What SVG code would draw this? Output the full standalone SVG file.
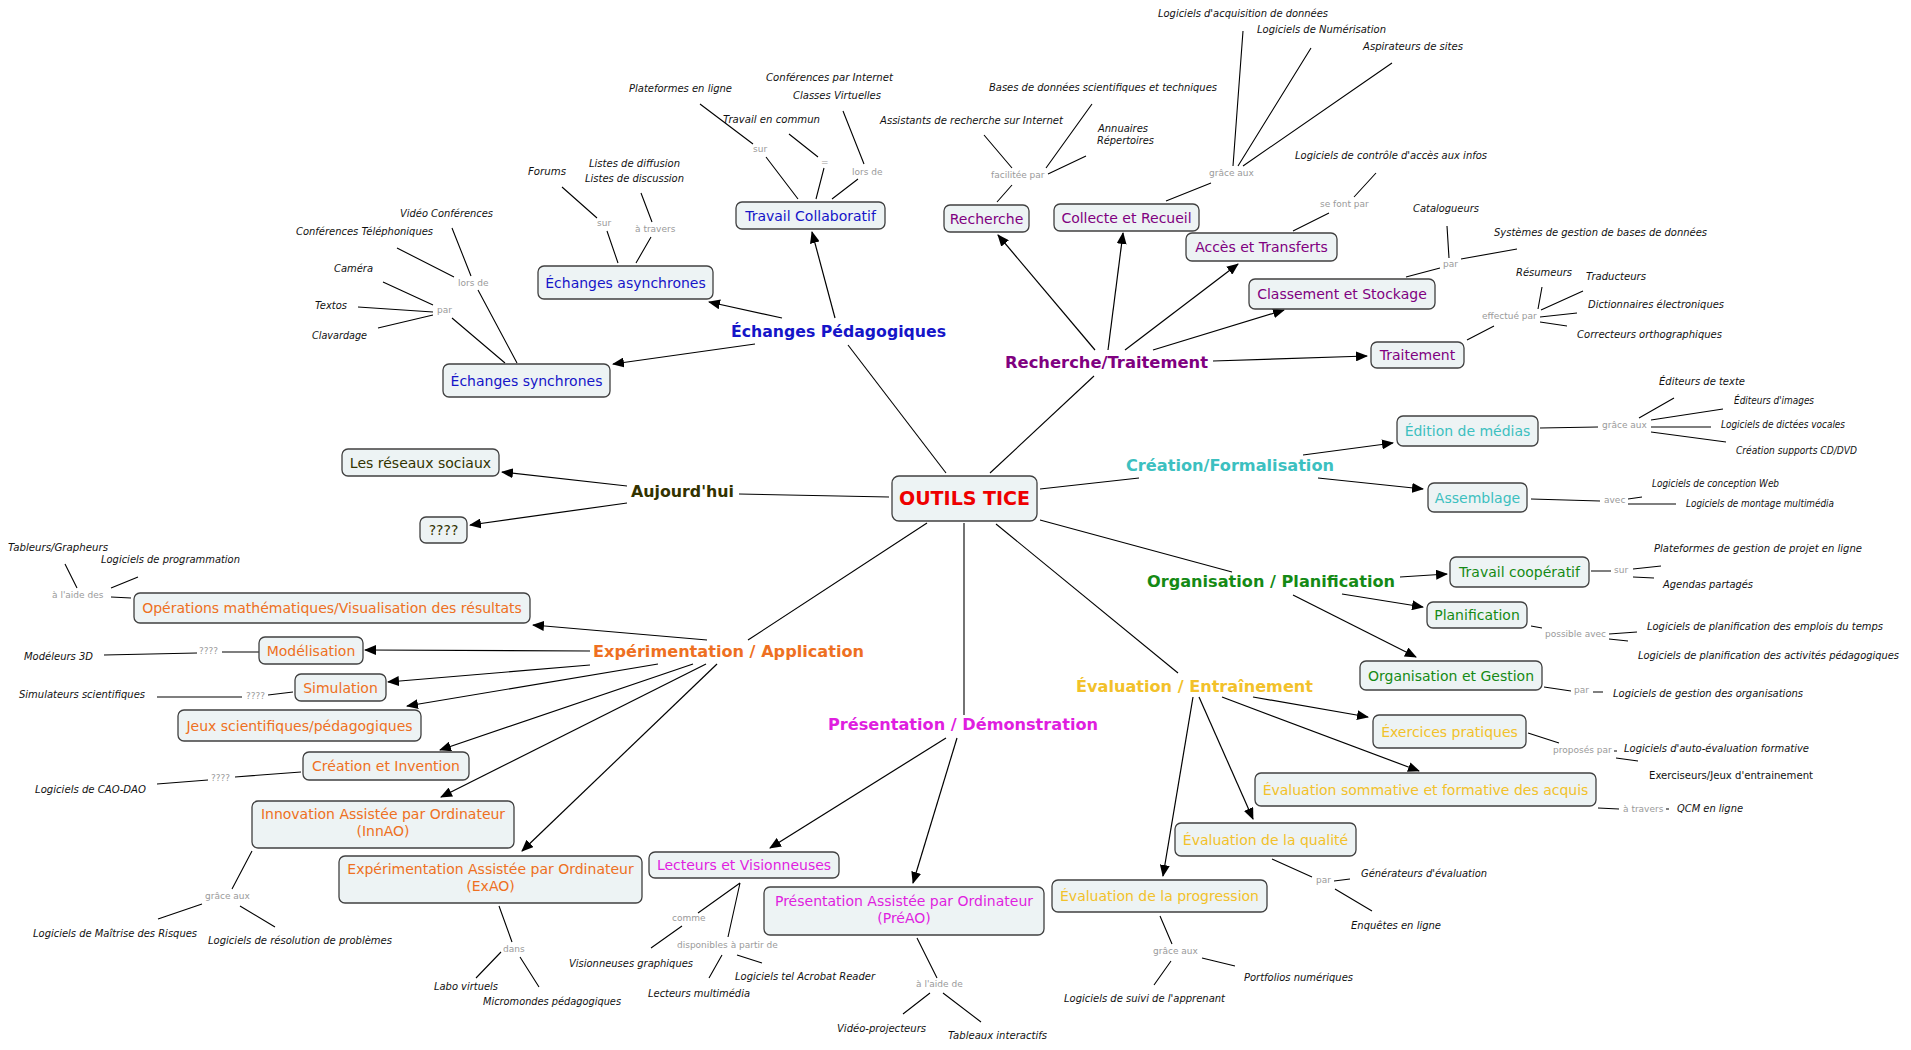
<svg xmlns="http://www.w3.org/2000/svg" width="1911" height="1050" viewBox="0 0 1911 1050">
<style>
.bg{fill:#ffffff}
.box{fill:#edf3f4;stroke:#404040;stroke-width:1.3}
.nt{font-family:"DejaVu Sans",Verdana,sans-serif;font-size:14px;text-anchor:middle}
.cat{font-family:"DejaVu Sans",Verdana,sans-serif;font-size:16px;font-weight:bold}
.leaf{font-family:"DejaVu Sans",Verdana,sans-serif;font-size:10px;font-style:italic;fill:#111}
.plain{font-family:"DejaVu Sans",Verdana,sans-serif;font-size:10px;fill:#111}
.lab{font-family:"DejaVu Sans",Verdana,sans-serif;font-size:9px;fill:#9a9a9a}
.ln{stroke:#000;stroke-width:1.1;fill:none}
.ar{stroke:#000;stroke-width:1.2;fill:none;marker-end:url(#ah)}
.blue{fill:#1515c8}.purple{fill:#800080}.cyan{fill:#3cc0c0}.green{fill:#158a15}.gold{fill:#f2c12a}.mag{fill:#e01ee0}.orange{fill:#ee7022}.olive{fill:#333300}.red{fill:#ee0000}
</style>
<defs>
<marker id="ah" markerWidth="12" markerHeight="10" refX="11" refY="5" orient="auto" markerUnits="userSpaceOnUse">
<path d="M0,0 L12,5 L0,10 z" fill="#000"/>
</marker>
</defs>
<rect class="bg" x="0" y="0" width="1911" height="1050"/>

<g id="connectors">
<!-- center to categories -->
<line class="ln" x1="946" y1="473" x2="848" y2="345"/>
<line class="ln" x1="889" y1="497" x2="739" y2="494"/>
<line class="ln" x1="927" y1="523" x2="748" y2="640"/>
<line class="ln" x1="964" y1="523" x2="964" y2="715"/>
<line class="ln" x1="996" y1="524" x2="1178" y2="673"/>
<line class="ln" x1="1040" y1="520" x2="1232" y2="572"/>
<line class="ln" x1="1040" y1="489" x2="1139" y2="478"/>
<line class="ln" x1="990" y1="473" x2="1094" y2="376"/>
<!-- arrows -->
<line class="ar" x1="782" y1="318" x2="709" y2="302"/>
<line class="ar" x1="835" y1="318" x2="812" y2="232"/>
<line class="ar" x1="755" y1="344" x2="613" y2="364"/>
<line class="ar" x1="627" y1="486" x2="502" y2="472"/>
<line class="ar" x1="627" y1="503" x2="470" y2="525"/>
<line class="ar" x1="1095" y1="350" x2="998" y2="235"/>
<line class="ar" x1="1108" y1="350" x2="1123" y2="233"/>
<line class="ar" x1="1125" y1="350" x2="1238" y2="264"/>
<line class="ar" x1="1153" y1="350" x2="1284" y2="310"/>
<line class="ar" x1="1213" y1="361" x2="1367" y2="356"/>
<line class="ar" x1="1303" y1="455" x2="1393" y2="443"/>
<line class="ar" x1="1318" y1="478" x2="1423" y2="489"/>
<line class="ar" x1="1400" y1="577" x2="1447" y2="574"/>
<line class="ar" x1="1342" y1="594" x2="1423" y2="607"/>
<line class="ar" x1="1293" y1="595" x2="1416" y2="657"/>
<line class="ar" x1="1253" y1="697" x2="1368" y2="717"/>
<line class="ar" x1="1222" y1="697" x2="1419" y2="771"/>
<line class="ar" x1="1199" y1="697" x2="1253" y2="819"/>
<line class="ar" x1="1193" y1="697" x2="1163" y2="876"/>
<line class="ar" x1="946" y1="738" x2="770" y2="848"/>
<line class="ar" x1="957" y1="738" x2="913" y2="883"/>
<line class="ar" x1="707" y1="640" x2="533" y2="625"/>
<line class="ar" x1="590" y1="651" x2="365" y2="650"/>
<line class="ar" x1="590" y1="665" x2="388" y2="682"/>
<line class="ar" x1="658" y1="664" x2="407" y2="706"/>
<line class="ar" x1="693" y1="664" x2="440" y2="750"/>
<line class="ar" x1="706" y1="664" x2="441" y2="797"/>
<line class="ar" x1="717" y1="664" x2="522" y2="851"/>
<!-- leaf links -->
<path class="ln" d="M397,248L454,277M452,228L471,276M478,290L517,363M383,282L433,305M358,307L433,312M378,328L433,315M452,318L505,363"/>
<path class="ln" d="M700,104L753,144M766,157L798,199M789,134L818,157M824,168L816,199M843,111L864,164M858,179L832,199"/>
<path class="ln" d="M562,187L597,218M607,231L618,263M641,193L652,222M651,237L636,263"/>
<path class="ln" d="M984,135L1012,168M1092,104L1046,168M1086,156L1048,174M1012,185L997,202"/>
<path class="ln" d="M1243,31L1233,166M1311,48L1238,166M1392,63L1243,166M1211,183L1166,201"/>
<path class="ln" d="M1376,173L1354,197M1329,213L1293,231"/>
<path class="ln" d="M1406,277L1440,268M1447,226L1449,258M1461,259L1517,249"/>
<path class="ln" d="M1494,326L1467,340M1542,287L1538,309M1583,291L1541,310M1577,313L1540,317M1567,326L1540,322"/>
<path class="ln" d="M1540,428L1598,427M1639,418L1674,398M1651,420L1723,409M1651,427L1711,427M1651,432L1726,442"/>
<path class="ln" d="M1531,499L1600,501M1628,499L1642,497M1628,504L1676,504"/>
<path class="ln" d="M1591,571L1611,571M1633,569L1661,566M1633,577L1654,578"/>
<path class="ln" d="M1531,626L1542,628M1609,634L1637,632M1609,639L1628,641"/>
<path class="ln" d="M1544,687L1571,691M1593,692L1603,692"/>
<path class="ln" d="M1528,733L1559,743M1614,751L1617,751M1616,758L1638,761"/>
<path class="ln" d="M1598,808L1619,809M1666,809L1669,809"/>
<path class="ln" d="M1272,859L1312,877M1334,881L1350,879M1335,889L1372,911"/>
<path class="ln" d="M1160,916L1172,944M1202,958L1235,966M1171,961L1154,985"/>
<path class="ln" d="M917,938L937,978M930,993L903,1014M943,993L981,1022"/>
<path class="ln" d="M740,883L698,913M682,926L651,948M740,883L728,937M722,955L709,978M737,955L762,963"/>
<path class="ln" d="M499,906L512,942M501,952L476,978M520,957L539,987"/>
<path class="ln" d="M252,851L232,889M202,904L158,919M240,906L275,927"/>
<path class="ln" d="M157,784L208,780M235,777L301,772"/>
<path class="ln" d="M157,697L242,697M268,695L293,692"/>
<path class="ln" d="M104,655L197,653M222,652L259,652"/>
<path class="ln" d="M65,564L77,588M138,577L111,588M111,597L131,598"/>
</g>

<g id="labels">
<text class="lab" x="458" y="286">lors de</text>
<text class="lab" x="437" y="313">par</text>
<text class="lab" x="753" y="152">sur</text>
<text class="lab" x="821" y="165">=</text>
<text class="lab" x="852" y="175">lors de</text>
<text class="lab" x="597" y="226">sur</text>
<text class="lab" x="635" y="232">à travers</text>
<text class="lab" x="991" y="178">facilitée par</text>
<text class="lab" x="1209" y="176">grâce aux</text>
<text class="lab" x="1320" y="207">se font par</text>
<text class="lab" x="1443" y="267">par</text>
<text class="lab" x="1482" y="319">effectué par</text>
<text class="lab" x="1602" y="428">grâce aux</text>
<text class="lab" x="1604" y="503">avec</text>
<text class="lab" x="1614" y="573">sur</text>
<text class="lab" x="1545" y="637">possible avec</text>
<text class="lab" x="1574" y="693">par</text>
<text class="lab" x="1553" y="753">proposés par</text>
<text class="lab" x="1623" y="812">à travers</text>
<text class="lab" x="1316" y="883">par</text>
<text class="lab" x="1153" y="954">grâce aux</text>
<text class="lab" x="916" y="987">à l'aide de</text>
<text class="lab" x="672" y="921">comme</text>
<text class="lab" x="677" y="948">disponibles à partir de</text>
<text class="lab" x="503" y="952">dans</text>
<text class="lab" x="205" y="899">grâce aux</text>
<text class="lab" x="211" y="781">????</text>
<text class="lab" x="246" y="699">????</text>
<text class="lab" x="199" y="654">????</text>
<text class="lab" x="52" y="598">à l'aide des</text>
</g>

<g id="leaves">
<text class="leaf" x="400" y="217" textLength="93" lengthAdjust="spacingAndGlyphs">Vidéo Conférences</text>
<text class="leaf" x="296" y="235" textLength="137" lengthAdjust="spacingAndGlyphs">Conférences Téléphoniques</text>
<text class="leaf" x="334" y="272" textLength="39" lengthAdjust="spacingAndGlyphs">Caméra</text>
<text class="leaf" x="315" y="309" textLength="32" lengthAdjust="spacingAndGlyphs">Textos</text>
<text class="leaf" x="312" y="339" textLength="55" lengthAdjust="spacingAndGlyphs">Clavardage</text>
<text class="leaf" x="629" y="92" textLength="103" lengthAdjust="spacingAndGlyphs">Plateformes en ligne</text>
<text class="leaf" x="766" y="81" textLength="127" lengthAdjust="spacingAndGlyphs">Conférences par Internet</text>
<text class="leaf" x="793" y="99" textLength="88" lengthAdjust="spacingAndGlyphs">Classes Virtuelles</text>
<text class="leaf" x="723" y="123" textLength="97" lengthAdjust="spacingAndGlyphs">Travail en commun</text>
<text class="leaf" x="528" y="175" textLength="38" lengthAdjust="spacingAndGlyphs">Forums</text>
<text class="leaf" x="589" y="167" textLength="91" lengthAdjust="spacingAndGlyphs">Listes de diffusion</text>
<text class="leaf" x="585" y="182" textLength="99" lengthAdjust="spacingAndGlyphs">Listes de discussion</text>
<text class="leaf" x="1158" y="17" textLength="170" lengthAdjust="spacingAndGlyphs">Logiciels d'acquisition de données</text>
<text class="leaf" x="1257" y="33" textLength="129" lengthAdjust="spacingAndGlyphs">Logiciels de Numérisation</text>
<text class="leaf" x="1363" y="50" textLength="100" lengthAdjust="spacingAndGlyphs">Aspirateurs de sites</text>
<text class="leaf" x="989" y="91" textLength="228" lengthAdjust="spacingAndGlyphs">Bases de données scientifiques et techniques</text>
<text class="leaf" x="880" y="124" textLength="183" lengthAdjust="spacingAndGlyphs">Assistants de recherche sur Internet</text>
<text class="leaf" x="1098" y="132" textLength="50" lengthAdjust="spacingAndGlyphs">Annuaires</text>
<text class="leaf" x="1097" y="144" textLength="57" lengthAdjust="spacingAndGlyphs">Répertoires</text>
<text class="leaf" x="1295" y="159" textLength="192" lengthAdjust="spacingAndGlyphs">Logiciels de contrôle d'accès aux infos</text>
<text class="leaf" x="1413" y="212" textLength="66" lengthAdjust="spacingAndGlyphs">Catalogueurs</text>
<text class="leaf" x="1494" y="236" textLength="213" lengthAdjust="spacingAndGlyphs">Systèmes de gestion de bases de données</text>
<text class="leaf" x="1516" y="276" textLength="56" lengthAdjust="spacingAndGlyphs">Résumeurs</text>
<text class="leaf" x="1586" y="280" textLength="60" lengthAdjust="spacingAndGlyphs">Traducteurs</text>
<text class="leaf" x="1588" y="308" textLength="136" lengthAdjust="spacingAndGlyphs">Dictionnaires électroniques</text>
<text class="leaf" x="1577" y="338" textLength="145" lengthAdjust="spacingAndGlyphs">Correcteurs orthographiques</text>
<text class="leaf" x="1659" y="385" textLength="86" lengthAdjust="spacingAndGlyphs">Éditeurs de texte</text>
<text class="leaf" x="1734" y="404" textLength="80" lengthAdjust="spacingAndGlyphs">Éditeurs d'images</text>
<text class="leaf" x="1721" y="428" textLength="124" lengthAdjust="spacingAndGlyphs">Logiciels de dictées vocales</text>
<text class="leaf" x="1736" y="454" textLength="121" lengthAdjust="spacingAndGlyphs">Création supports CD/DVD</text>
<text class="leaf" x="1652" y="487" textLength="127" lengthAdjust="spacingAndGlyphs">Logiciels de conception Web</text>
<text class="leaf" x="1686" y="507" textLength="148" lengthAdjust="spacingAndGlyphs">Logiciels de montage multimédia</text>
<text class="leaf" x="1654" y="552" textLength="208" lengthAdjust="spacingAndGlyphs">Plateformes de gestion de projet en ligne</text>
<text class="leaf" x="1663" y="588" textLength="90" lengthAdjust="spacingAndGlyphs">Agendas partagés</text>
<text class="leaf" x="1647" y="630" textLength="236" lengthAdjust="spacingAndGlyphs">Logiciels de planification des emplois du temps</text>
<text class="leaf" x="1638" y="659" textLength="261" lengthAdjust="spacingAndGlyphs">Logiciels de planification des activités pédagogiques</text>
<text class="leaf" x="1613" y="697" textLength="190" lengthAdjust="spacingAndGlyphs">Logiciels de gestion des organisations</text>
<text class="leaf" x="1624" y="752" textLength="185" lengthAdjust="spacingAndGlyphs">Logiciels d'auto-évaluation formative</text>
<text class="plain" x="1649" y="779" textLength="164" lengthAdjust="spacingAndGlyphs">Exerciseurs/Jeux d'entrainement</text>
<text class="leaf" x="1677" y="812" textLength="66" lengthAdjust="spacingAndGlyphs">QCM en ligne</text>
<text class="leaf" x="1361" y="877" textLength="126" lengthAdjust="spacingAndGlyphs">Générateurs d'évaluation</text>
<text class="leaf" x="1351" y="929">Enquêtes en ligne</text>
<text class="leaf" x="1244" y="981" textLength="109" lengthAdjust="spacingAndGlyphs">Portfolios numériques</text>
<text class="leaf" x="1064" y="1002" textLength="161" lengthAdjust="spacingAndGlyphs">Logiciels de suivi de l'apprenant</text>
<text class="leaf" x="837" y="1032" textLength="89" lengthAdjust="spacingAndGlyphs">Vidéo-projecteurs</text>
<text class="leaf" x="948" y="1039" textLength="99" lengthAdjust="spacingAndGlyphs">Tableaux interactifs</text>
<text class="leaf" x="569" y="967" textLength="124" lengthAdjust="spacingAndGlyphs">Visionneuses graphiques</text>
<text class="leaf" x="648" y="997" textLength="102" lengthAdjust="spacingAndGlyphs">Lecteurs multimédia</text>
<text class="leaf" x="735" y="980" textLength="140" lengthAdjust="spacingAndGlyphs">Logiciels tel Acrobat Reader</text>
<text class="leaf" x="434" y="990" textLength="64" lengthAdjust="spacingAndGlyphs">Labo virtuels</text>
<text class="leaf" x="483" y="1005" textLength="138" lengthAdjust="spacingAndGlyphs">Micromondes pédagogiques</text>
<text class="leaf" x="33" y="937" textLength="164" lengthAdjust="spacingAndGlyphs">Logiciels de Maîtrise des Risques</text>
<text class="leaf" x="208" y="944" textLength="184" lengthAdjust="spacingAndGlyphs">Logiciels de résolution de problèmes</text>
<text class="leaf" x="35" y="793" textLength="111" lengthAdjust="spacingAndGlyphs">Logiciels de CAO-DAO</text>
<text class="leaf" x="19" y="698" textLength="126" lengthAdjust="spacingAndGlyphs">Simulateurs scientifiques</text>
<text class="leaf" x="24" y="660" textLength="69" lengthAdjust="spacingAndGlyphs">Modéleurs 3D</text>
<text class="leaf" x="8" y="551" textLength="100" lengthAdjust="spacingAndGlyphs">Tableurs/Grapheurs</text>
<text class="leaf" x="101" y="563" textLength="139" lengthAdjust="spacingAndGlyphs">Logiciels de programmation</text>
</g>

<g id="categories">
<text id="cat-echanges" class="cat blue" x="731" y="337" textLength="215" lengthAdjust="spacingAndGlyphs">Échanges Pédagogiques</text>
<text id="cat-recherche" class="cat purple" x="1005" y="368" textLength="203" lengthAdjust="spacingAndGlyphs">Recherche/Traitement</text>
<text id="cat-creation" class="cat cyan" x="1126" y="471" textLength="208" lengthAdjust="spacingAndGlyphs">Création/Formalisation</text>
<text id="cat-organisation" class="cat green" x="1147" y="587" textLength="248" lengthAdjust="spacingAndGlyphs">Organisation / Planification</text>
<text id="cat-evaluation" class="cat gold" x="1076" y="692" textLength="237" lengthAdjust="spacingAndGlyphs">Évaluation / Entraînement</text>
<text id="cat-presentation" class="cat mag" x="828" y="730" textLength="270" lengthAdjust="spacingAndGlyphs">Présentation / Démonstration</text>
<text id="cat-experimentation" class="cat orange" x="593" y="657" textLength="271" lengthAdjust="spacingAndGlyphs">Expérimentation / Application</text>
<text id="cat-aujourdhui" class="cat olive" x="631" y="497" textLength="103" lengthAdjust="spacingAndGlyphs">Aujourd'hui</text>
</g>

<g id="node-outils"><rect class="box" x="892" y="476" width="145" height="45" rx="7"/><text class="nt red" x="964.5" y="505" style="font-size:19px;font-weight:bold">OUTILS TICE</text></g>
<g id="node-travail-collab"><rect class="box" x="736" y="202" width="149" height="27" rx="6"/><text class="nt blue" x="810.5" y="220.5">Travail Collaboratif</text></g>
<g id="node-asynch"><rect class="box" x="538" y="266" width="175" height="33" rx="6"/><text class="nt blue" x="625.5" y="287.5">Échanges asynchrones</text></g>
<g id="node-synch"><rect class="box" x="443" y="364" width="167" height="33" rx="6"/><text class="nt blue" x="526.5" y="385.5">Échanges synchrones</text></g>
<g id="node-recherche"><rect class="box" x="944" y="205" width="85" height="27" rx="6"/><text class="nt purple" x="986.5" y="223.5">Recherche</text></g>
<g id="node-collecte"><rect class="box" x="1054" y="204" width="145" height="27" rx="6"/><text class="nt purple" x="1126.5" y="222.5">Collecte et Recueil</text></g>
<g id="node-acces"><rect class="box" x="1186" y="233" width="151" height="28" rx="6"/><text class="nt purple" x="1261.5" y="252">Accès et Transferts</text></g>
<g id="node-classement"><rect class="box" x="1249" y="279" width="186" height="30" rx="6"/><text class="nt purple" x="1342" y="299">Classement et Stockage</text></g>
<g id="node-traitement"><rect class="box" x="1371" y="342" width="93" height="26" rx="6"/><text class="nt purple" x="1417.5" y="360">Traitement</text></g>
<g id="node-edition"><rect class="box" x="1397" y="416" width="141" height="30" rx="6"/><text class="nt cyan" x="1467.5" y="436">Édition de médias</text></g>
<g id="node-assemblage"><rect class="box" x="1428" y="483" width="99" height="29" rx="6"/><text class="nt cyan" x="1477.5" y="502.5">Assemblage</text></g>
<g id="node-travail-coop"><rect class="box" x="1450" y="557" width="139" height="30" rx="6"/><text class="nt green" x="1519.5" y="577">Travail coopératif</text></g>
<g id="node-planification"><rect class="box" x="1427" y="602" width="100" height="26" rx="6"/><text class="nt green" x="1477" y="620">Planification</text></g>
<g id="node-orggestion"><rect class="box" x="1360" y="661" width="182" height="29" rx="6"/><text class="nt green" x="1451" y="680.5">Organisation et Gestion</text></g>
<g id="node-exercices"><rect class="box" x="1373" y="715" width="153" height="33" rx="6"/><text class="nt gold" x="1449.5" y="736.5">Éxercices pratiques</text></g>
<g id="node-sommative"><rect class="box" x="1255" y="773" width="341" height="33" rx="6"/><text class="nt gold" x="1425.5" y="794.5">Évaluation sommative et formative des acquis</text></g>
<g id="node-qualite"><rect class="box" x="1175" y="823" width="181" height="33" rx="6"/><text class="nt gold" x="1265.5" y="844.5">Évaluation de la qualité</text></g>
<g id="node-progression"><rect class="box" x="1052" y="880" width="215" height="32" rx="6"/><text class="nt gold" x="1159.5" y="901">Évaluation de la progression</text></g>
<g id="node-preao"><rect class="box" x="764" y="887" width="280" height="48" rx="6"/><text class="nt mag" x="904" y="906">Présentation Assistée par Ordinateur</text><text class="nt mag" x="904" y="923">(PréAO)</text></g>
<g id="node-lecteurs"><rect class="box" x="649" y="852" width="190" height="26" rx="6"/><text class="nt mag" x="744" y="870">Lecteurs et Visionneuses</text></g>
<g id="node-exao"><rect class="box" x="339" y="856" width="303" height="47" rx="6"/><text class="nt orange" x="490.5" y="874">Expérimentation Assistée par Ordinateur</text><text class="nt orange" x="490.5" y="891">(ExAO)</text></g>
<g id="node-innao"><rect class="box" x="252" y="801" width="262" height="47" rx="6"/><text class="nt orange" x="383" y="819">Innovation Assistée par Ordinateur</text><text class="nt orange" x="383" y="836">(InnAO)</text></g>
<g id="node-creation-inv"><rect class="box" x="303" y="752" width="166" height="28" rx="6"/><text class="nt orange" x="386" y="771">Création et Invention</text></g>
<g id="node-jeux"><rect class="box" x="178" y="710" width="243" height="31" rx="6"/><text class="nt orange" x="299.5" y="730.5">Jeux scientifiques/pédagogiques</text></g>
<g id="node-simulation"><rect class="box" x="295" y="674" width="91" height="27" rx="6"/><text class="nt orange" x="340.5" y="692.5">Simulation</text></g>
<g id="node-modelisation"><rect class="box" x="259" y="637" width="104" height="27" rx="6"/><text class="nt orange" x="311" y="655.5">Modélisation</text></g>
<g id="node-operations"><rect class="box" x="134" y="593" width="396" height="30" rx="6"/><text class="nt orange" x="332" y="613">Opérations mathématiques/Visualisation des résultats</text></g>
<g id="node-reseaux"><rect class="box" x="342" y="449" width="157" height="27" rx="6"/><text class="nt olive" x="420.5" y="467.5">Les réseaux sociaux</text></g>
<g id="node-qqqq"><rect class="box" x="420" y="517" width="47" height="26" rx="6"/><text class="nt olive" x="443.5" y="535">????</text></g>
</svg>
